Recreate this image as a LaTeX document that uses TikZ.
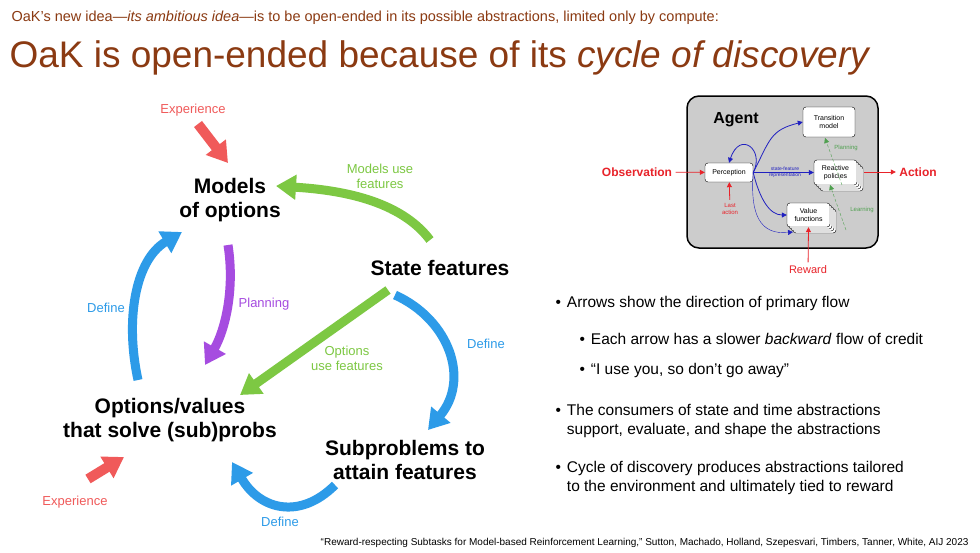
\documentclass[tikz,border=0pt]{standalone}
\usepackage{fontspec}
\setmainfont{Liberation Sans}
\usetikzlibrary{arrows.meta}
\definecolor{brn}{HTML}{8B3A12}
\definecolor{gr}{HTML}{7DC843}
\definecolor{bl}{HTML}{2D9BE8}
\definecolor{pu}{HTML}{A64CE0}
\definecolor{rd}{HTML}{F05A5A}
\definecolor{ar}{HTML}{E8232A}
\definecolor{ab}{HTML}{2020C0}
\definecolor{ag}{HTML}{50A050}
\begin{document}
\begin{tikzpicture}[x=1pt,y=-1pt,
 big/.style={line width=9pt,-{Triangle[width=24pt,length=20pt]}},
 lab/.style={font=\fontsize{13}{15}\selectfont,align=center},
 key/.style={font=\fontsize{21}{24}\selectfont\bfseries,align=center},
 box/.style={draw,fill=white,rounded corners=3pt,font=\fontsize{7}{8}\selectfont,align=center,inner sep=2pt},
 sm/.style={-{Triangle[width=5pt,length=5pt]}},
 bul/.style={font=\fontsize{15.5}{19}\selectfont,anchor=west,align=left}]
\useasboundingbox (0,0) rectangle (980,552);
\fill[white] (0,0) rectangle (980,552);
\node[anchor=west,text=brn,font=\fontsize{14.5}{16}\selectfont] (sub) at (8,18) {OaK's new idea---\textit{its ambitious idea}---is to be open-ended in its possible abstractions, limited only by compute:};
\node[anchor=west,text=brn,font=\fontsize{37}{40}\selectfont] (title) at (6,58) {OaK is open-ended because of its \textit{cycle of discovery}};
% cycle
\node[key] (mo) at (230,200) {Models\\of options};
\node[key] (sf) at (440,268) {State features};
\node[key] (ov) at (170,420) {Options/values\\that solve (sub)probs};
\node[key] (sp) at (405,460) {Subproblems to\\attain features};
\coordinate (g1s) at (430,240); \coordinate (g1e) at (276,186);
\draw[big,gr] (g1s) .. controls (400,200) and (340,190) .. (g1e);
\node[lab,text=gr] (l1) at (380,176) {Models use\\features};
\coordinate (g2s) at (388,290); \coordinate (g2e) at (240,395);
\draw[big,gr] (g2s) -- (g2e);
\node[lab,text=gr] (l2) at (347,358) {Options\\use features};
\coordinate (b1s) at (395,295); \coordinate (b1e) at (428,430);
\draw[big,bl] (b1s) .. controls (450,320) and (470,380) .. (b1e);
\node[lab,text=bl] (l3) at (486,344) {Define};
\coordinate (b2s) at (335,485); \coordinate (b2e) at (232,462);
\draw[big,bl] (b2s) .. controls (300,520) and (260,510) .. (b2e);
\node[lab,text=bl] (l4) at (280,522) {Define};
\coordinate (b3s) at (138,380); \coordinate (b3e) at (182,232);
\draw[big,bl] (b3s) .. controls (125,320) and (135,260) .. (b3e);
\node[lab,text=bl] (l5) at (106,308) {Define};
\coordinate (p1s) at (228,245); \coordinate (p1e) at (205,365);
\draw[big,pu] (p1s) .. controls (235,290) and (225,330) .. (p1e);
\node[lab,text=pu] (l6) at (264,304) {Planning};
\node[lab,text=rd] (e1) at (193,110) {Experience};
\coordinate (e1s) at (198,124); \coordinate (e1e) at (228,163);
\draw[big,rd,line width=10pt] (e1s) -- (e1e);
\node[lab,text=rd] (e2) at (75,502) {Experience};
\coordinate (e2s) at (88,479); \coordinate (e2e) at (124,457);
\draw[big,rd,line width=10pt] (e2s) -- (e2e);
% agent
\draw[line width=1.5pt,fill=black!20,rounded corners=12pt] (687,96) rectangle (878,248);
\node[font=\fontsize{16}{18}\selectfont\bfseries] (agent) at (736,120) {Agent};
\node[box,minimum width=52pt,minimum height=30pt] (tm) at (829,122) {Transition\\model};
\foreach \d in {6,4,2} \draw[fill=white,rounded corners=3pt] (814+\d,160+\d) rectangle (857+\d,185+\d);
\node[box,minimum width=43pt,minimum height=25pt] (rp) at (835.5,172.5) {Reactive\\policies};
\foreach \d in {6,4,2} \draw[fill=white,rounded corners=3pt] (787+\d,203+\d) rectangle (830+\d,227+\d);
\node[box,minimum width=43pt,minimum height=24pt] (vf) at (808.5,215) {Value\\functions};
\node[box,minimum width=48pt,minimum height=19pt] (pc) at (729,172.5) {Perception};
\node[text=ar,font=\fontsize{12}{13}\selectfont\bfseries] (obs) at (637,172) {Observation};
\node[text=ar,font=\fontsize{12}{13}\selectfont\bfseries] (act) at (918,172) {Action};
\node[text=ar,font=\fontsize{11}{12}\selectfont] (rew) at (808,270) {Reward};
\node[text=ar,font=\fontsize{6}{7}\selectfont,align=center] (la) at (730,209) {Last\\action};
\draw[ar,thick,sm] (obs) -- (pc);
\draw[ar,thick,sm] (864,172) -- (act);
\draw[ar,thick,sm] (rew) -- (vf.south);
\draw[ar,thick,sm] (la) -- (pc);
\draw[ab,thick,sm] (pc.east) .. controls (770,140) and (770,130) .. (tm.west);
\draw[ab,thick,sm] (pc.east) -- (rp.west);
\node[text=ab,font=\fontsize{5}{6}\selectfont,align=center] (sfr) at (785,172) {state-feature\\representation};
\draw[ab,thick,sm] (pc.east) .. controls (760,200) and (770,215) .. (vf.west);
\draw[ab,thick,sm] (pc.east) .. controls (765,150) and (740,130) .. (pc.north);
\draw[ab,sm] (pc.east) .. controls (750,215) and (760,235) .. (793,232);
\coordinate (pl1) at (830,185); \coordinate (pl2) at (825,138);
\draw[ag,densely dashed,sm] (846,230) -- (pl1);
\draw[ag,densely dashed,sm] (842,185) -- (pl2);
\node[text=ag,font=\fontsize{6}{7}\selectfont] (pln) at (846,148) {Planning};
\node[text=ag,font=\fontsize{6}{7}\selectfont] (lrn) at (862,210) {Learning};
% bullets
\node[bul] (t1) at (552,303) {•\hspace{6pt}Arrows show the direction of primary flow};
\node[bul] (t2) at (576,339) {•\hspace{6pt}Each arrow has a slower \textit{backward} flow of credit};
\node[bul] (t3) at (576,370) {•\hspace{6pt}“I use you, so don't go away”};
\node[bul] (t4) at (552,421) {•\hspace{6pt}\begin{tabular}[t]{@{}l@{}}The consumers of state and time abstractions\\support, evaluate, and shape the abstractions\end{tabular}};
\node[bul] (t5) at (552,478) {•\hspace{6pt}\begin{tabular}[t]{@{}l@{}}Cycle of discovery produces abstractions tailored\\to the environment and ultimately tied to reward\end{tabular}};
\node[anchor=east,font=\fontsize{10}{12}\selectfont] (cit) at (972,543) {“Reward-respecting Subtasks for Model-based Reinforcement Learning,” Sutton, Machado, Holland, Szepesvari, Timbers, Tanner, White, AIJ 2023};
\end{tikzpicture}
\end{document}
